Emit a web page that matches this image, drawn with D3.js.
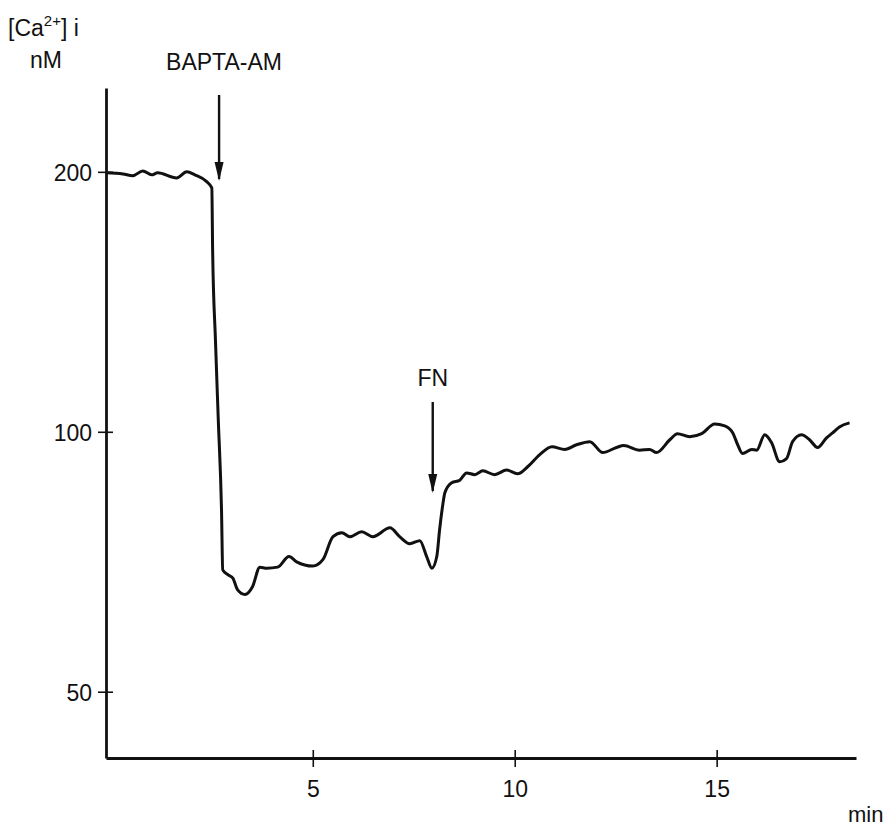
<!DOCTYPE html>
<html><head><meta charset="utf-8">
<script src="https://cdn.jsdelivr.net/npm/d3@7"></script>
<style>
body{margin:0;background:#fff;}
text{font-family:"Liberation Sans",Arial,sans-serif;fill:#111;}
</style></head>
<body><svg id="c" width="892" height="830"></svg>
<script>
// time (min)
const times = [-0.12,0.30,0.54,0.79,1.01,1.16,1.63,1.88,2.08,2.38,2.50,2.52,2.59,2.66,2.74,2.77,2.90,3.02,3.14,3.32,3.51,3.69,3.86,4.13,4.41,4.60,5.00,5.25,5.50,5.72,5.92,6.21,6.49,6.91,7.15,7.40,7.65,7.82,7.95,8.07,8.14,8.22,8.27,8.44,8.64,8.81,9.01,9.21,9.50,9.80,10.07,10.32,10.62,10.92,11.24,11.53,11.86,12.18,12.52,12.70,13.09,13.34,13.51,13.84,14.03,14.33,14.63,14.95,15.20,15.40,15.52,15.64,15.87,15.99,16.19,16.36,16.56,16.73,16.88,17.10,17.30,17.50,17.72,17.87,18.04,18.29];
// [Ca2+]i (nM)
const calcium = [199.5,198.9,197.9,200.5,198.4,199.5,196.8,200,198.4,194.7,191.6,162.5,127.7,103.3,81.2,69.2,68.3,67.7,65.6,64.8,66.2,69.7,69.5,69.7,71.7,70.7,69.9,71.1,75.6,76.4,75.6,76.6,75.6,77.4,75.6,74.2,74.8,71.7,69.5,71.7,77.0,82.4,85.0,87.3,87.9,89.6,89.2,90.1,89.2,90.3,89.4,91.1,94.1,96.1,95.4,96.6,97.4,94.6,95.9,96.4,95.2,95.4,94.6,97.9,99.5,98.7,99.5,102.1,101.6,99.7,96.6,94.4,95.4,95.2,99.2,97.1,92.3,93.1,97.4,99.2,97.9,95.9,98.4,99.7,101.3,102.4];
const xTicks = [5,10,15];
const yTicks = [50,100,200];
const annotations = [{label:"BAPTA-AM", t:2.68, v:200},{label:"FN", t:7.97, v:100}];

const svg = d3.select("#c");
const x = d3.scaleLinear().domain([-0.12,18.45]).range([106,856]);
const y = d3.scaleLog().domain([41.9,250.1]).range([758,88]);

// axes
const gx = svg.append("g").attr("transform",`translate(0,${y(41.9)})`)
  .call(d3.axisBottom(x).tickValues(xTicks).tickSize(0).tickPadding(0).tickFormat(d3.format("d")));
gx.select(".domain").attr("stroke","#111").attr("stroke-width",2.8);
gx.selectAll(".tick line").attr("y1",-8).attr("y2",9).attr("stroke","#111").attr("stroke-width",1.6);
gx.selectAll(".tick text").attr("y",39).attr("dy",0).attr("font-size",23).attr("fill","#111");

const gy = svg.append("g").attr("transform",`translate(${x(-0.12)},0)`)
  .call(d3.axisLeft(y).tickValues(yTicks).tickSize(0).tickFormat(d3.format("d")));
gy.select(".domain").attr("stroke","#111").attr("stroke-width",2.8);
gy.selectAll(".tick line").attr("x1",-8).attr("x2",7).attr("stroke","#111").attr("stroke-width",1.6);
gy.selectAll(".tick text").attr("x",-14).attr("dy","0.36em").attr("font-size",23).attr("fill","#111");

// trace
const line = d3.line().x((d,i)=>x(times[i])).y((d,i)=>y(calcium[i])).curve(d3.curveMonotoneX);
svg.append("path").datum(calcium).attr("d",line).attr("fill","none")
  .attr("stroke","#111").attr("stroke-width",3).attr("stroke-linejoin","round");

// axis labels
const yl = svg.append("text").attr("x",8).attr("y",36).attr("font-size",23);
yl.append("tspan").text("[Ca");
yl.append("tspan").attr("font-size",15).attr("dy",-10).text("2+");
yl.append("tspan").attr("dy",10).text("] i");
svg.append("text").attr("x",30).attr("y",68).attr("font-size",23).text("nM");
svg.append("text").attr("x",848).attr("y",822).attr("font-size",22).text("min");

// arrows
const arrowSpecs = [{top:95, bot:181, ty:70},{top:402, bot:493, ty:386}];
annotations.forEach((a,i)=>{
  const s = arrowSpecs[i];
  const ax = x(a.t);
  svg.append("line").attr("x1",ax).attr("x2",ax).attr("y1",s.top).attr("y2",s.bot-2)
    .attr("stroke","#111").attr("stroke-width",2.4);
  svg.append("path").attr("d",`M${ax-4.5},${s.bot-19} L${ax+4.5},${s.bot-19} L${ax},${s.bot} Z`).attr("fill","#111");
  svg.append("text").attr("x", i===0 ? ax-53 : ax).attr("y",s.ty).attr("font-size",23)
    .attr("text-anchor", i===0 ? "start" : "middle").text(a.label);
});
</script></body></html>
